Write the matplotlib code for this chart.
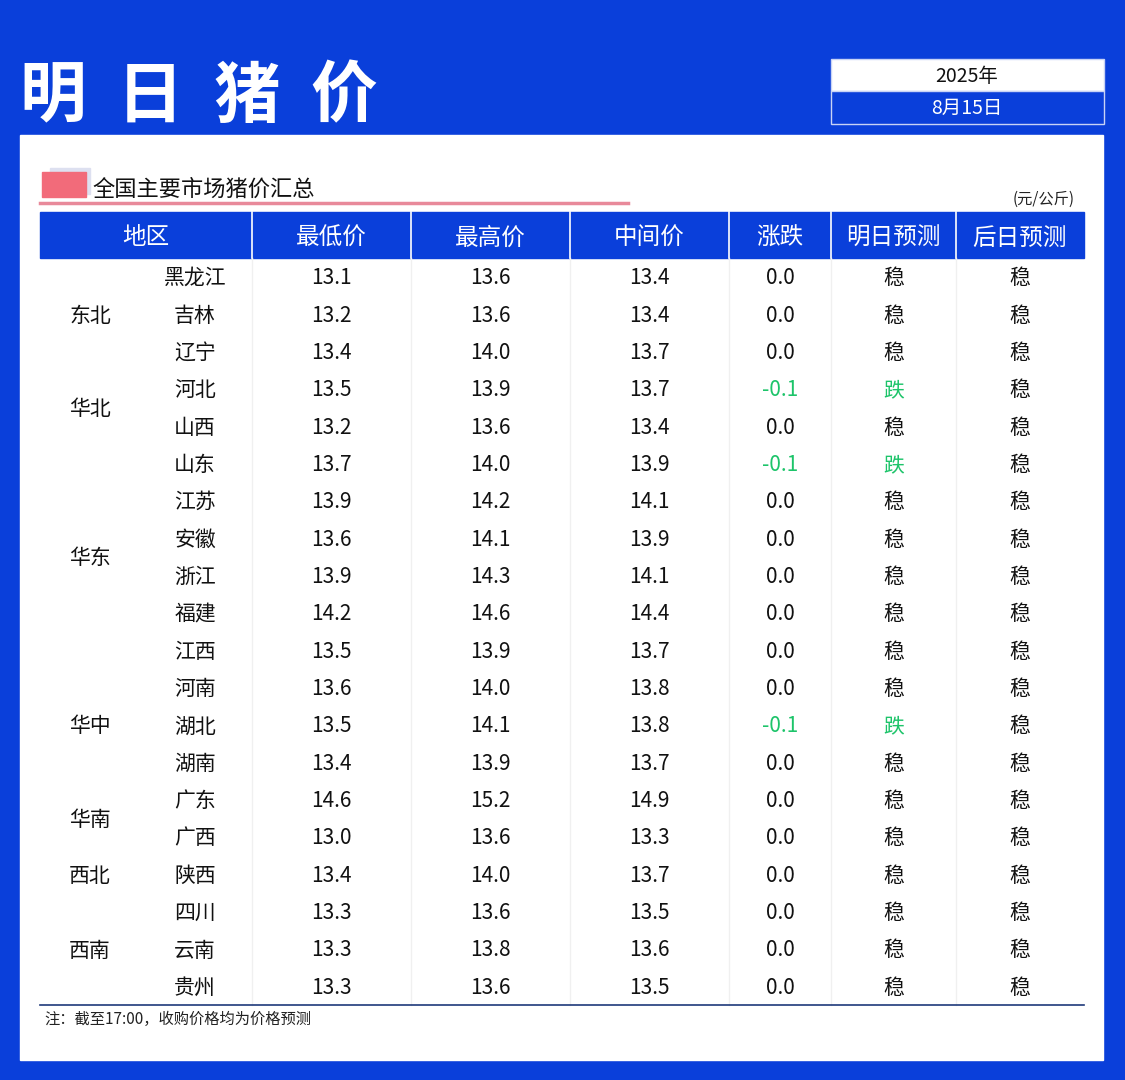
import matplotlib.pyplot as plt
from matplotlib.patches import Rectangle

plt.rcParams['font.family'] = 'Noto Sans CJK SC'

# ---- data ----
title_chars = ['明', '日', '猪', '价']
headers = ['地区', '最低价', '最高价', '中间价', '涨跌', '明日预测', '后日预测']
provinces = ['黑龙江', '吉林', '辽宁', '河北', '山西', '山东', '江苏', '安徽', '浙江', '福建',
             '江西', '河南', '湖北', '湖南', '广东', '广西', '陕西', '四川', '云南', '贵州']
low = [13.1, 13.2, 13.4, 13.5, 13.2, 13.7, 13.9, 13.6, 13.9, 14.2,
       13.5, 13.6, 13.5, 13.4, 14.6, 13.0, 13.4, 13.3, 13.3, 13.3]
high = [13.6, 13.6, 14.0, 13.9, 13.6, 14.0, 14.2, 14.1, 14.3, 14.6,
        13.9, 14.0, 14.1, 13.9, 15.2, 13.6, 14.0, 13.6, 13.8, 13.6]
mid = [13.4, 13.4, 13.7, 13.7, 13.4, 13.9, 14.1, 13.9, 14.1, 14.4,
       13.7, 13.8, 13.8, 13.7, 14.9, 13.3, 13.7, 13.5, 13.6, 13.5]
change = [0.0, 0.0, 0.0, -0.1, 0.0, -0.1, 0.0, 0.0, 0.0, 0.0,
          0.0, 0.0, -0.1, 0.0, 0.0, 0.0, 0.0, 0.0, 0.0, 0.0]
tomorrow = ['稳', '稳', '稳', '跌', '稳', '跌', '稳', '稳', '稳', '稳',
            '稳', '稳', '跌', '稳', '稳', '稳', '稳', '稳', '稳', '稳']
day_after = ['稳'] * 20
regions = [('东北', 0, 2), ('华北', 3, 4), ('华东', 5, 10), ('华中', 11, 13),
           ('华南', 14, 15), ('西北', 16, 16), ('西南', 17, 19)]

BLUE = '#0A3FDA'
GREEN = '#1DC46A'

fig = plt.figure(figsize=(11.25, 10.8), dpi=100)
ax = fig.add_axes([0, 0, 1, 1])
ax.set_xlim(0, 1125)
ax.set_ylim(1080, 0)
ax.axis('off')
fig.patch.set_facecolor(BLUE)

# white panel
ax.add_patch(Rectangle((20, 135), 1083, 925, color='white'))

# title, spaced out character by character
for k, ch in enumerate(title_chars):
    ax.text(53 + k * 97, 97, ch, color='white', fontsize=48, fontweight='bold', va='center', ha='center')

# date box
ax.add_patch(Rectangle((831, 59), 273, 32, facecolor='white', edgecolor='#c8d3f5', lw=1))
ax.add_patch(Rectangle((831, 91), 273, 33, facecolor=BLUE, edgecolor='#c8d3f5', lw=1))
ax.text(967, 76, '2025年', fontsize=14, ha='center', va='center', color='#111')
ax.text(967, 108, '8月15日', fontsize=14, ha='center', va='center', color='white')

# subtitle
ax.add_patch(Rectangle((50, 168), 40, 26, color='#dde0f0'))
ax.add_patch(Rectangle((42, 172), 44, 25, color='#F26B7A'))
ax.text(92, 189, '全国主要市场猪价汇总', fontsize=16, va='center', ha='left', color='#111')
ax.plot([40, 628], [203, 203], color='#E8899A', lw=2.5)
ax.text(1075, 199, '(元/公斤)', fontsize=11, ha='right', va='center', color='#222')

# header row
cols = [40, 252, 411, 570, 729, 831, 956, 1084]
top, head_bot = 212, 258
ax.add_patch(Rectangle((cols[0], top), cols[-1] - cols[0], head_bot - top, color=BLUE))
for i, h in enumerate(headers):
    ax.text((cols[i] + cols[i + 1]) / 2, 238, h, color='white', fontsize=17, ha='center', va='center')
    if 0 < i:
        ax.plot([cols[i], cols[i]], [top, head_bot], color='white', lw=1.2)

# body
bottom = 1005
n = len(provinces)
rh = (bottom - head_bot) / n
for c in cols[1:-1]:
    ax.plot([c, c], [head_bot, bottom], color='#f0f0f0', lw=1)
for name, a, b in regions:
    yc = head_bot + rh * (a + b + 1) / 2 + 1.5
    ax.text(90, yc, name, fontsize=15, ha='center', va='center', color='#111')
fs = 15
for i in range(n):
    y = head_bot + rh * (i + 0.5) + 1.5
    ax.text(195, y, provinces[i], fontsize=fs, ha='center', va='center', color='#111')
    ax.text((cols[1] + cols[2]) / 2, y, f'{low[i]:.1f}', fontsize=fs, ha='center', va='center', color='#111')
    ax.text((cols[2] + cols[3]) / 2, y, f'{high[i]:.1f}', fontsize=fs, ha='center', va='center', color='#111')
    ax.text((cols[3] + cols[4]) / 2, y, f'{mid[i]:.1f}', fontsize=fs, ha='center', va='center', color='#111')
    ax.text((cols[4] + cols[5]) / 2, y, f'{change[i]:.1f}', fontsize=fs, ha='center', va='center',
            color=GREEN if change[i] < 0 else '#111')
    ax.text((cols[5] + cols[6]) / 2, y, tomorrow[i], fontsize=fs, ha='center', va='center',
            color=GREEN if tomorrow[i] == '跌' else '#111')
    ax.text((cols[6] + cols[7]) / 2, y, day_after[i], fontsize=fs, ha='center', va='center', color='#111')
ax.plot([cols[0], cols[-1]], [bottom, bottom], color='#1F3A7A', lw=1.2)

ax.text(44, 1019, '注：截至17:00，收购价格均为价格预测', fontsize=11, ha='left', va='center', color='#222')

fig.savefig('out.png', dpi=100, facecolor=BLUE)
